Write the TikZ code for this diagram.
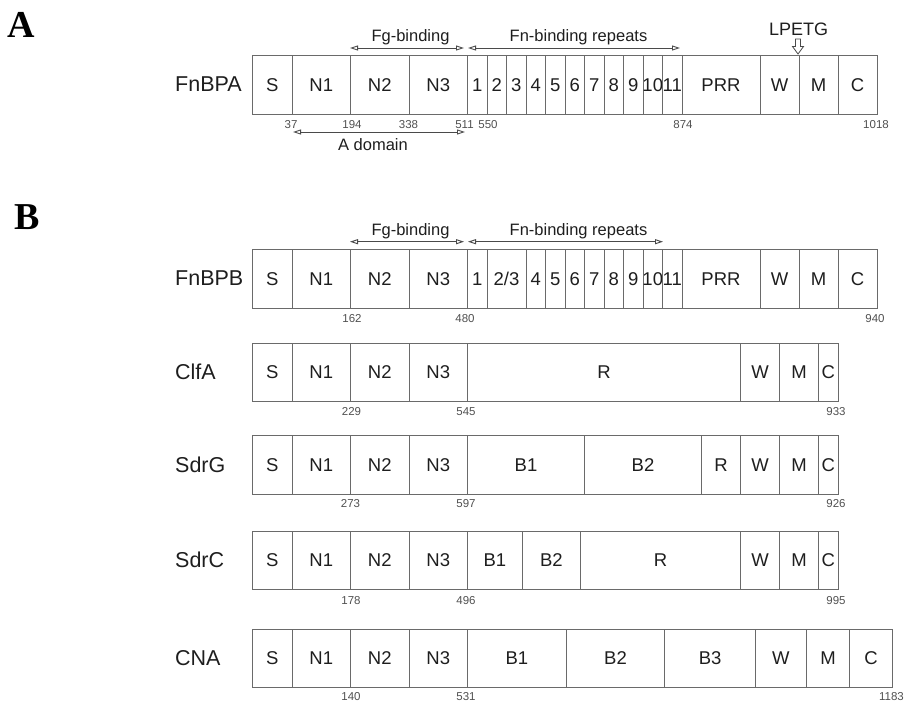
\documentclass[tikz,border=0pt]{standalone}
\usepackage{fontspec}
\setmainfont{Liberation Sans}
\newfontfamily\serifbold{Liberation Serif}
\usetikzlibrary{arrows.meta}
\definecolor{boxline}{HTML}{6A6A6A}
\definecolor{txt}{HTML}{1E1E1E}
\definecolor{numc}{HTML}{505050}
\definecolor{arrc}{HTML}{4A4A4A}
\newcommand\twothree{2/3}
\newcommand\segrow[3]{%
  \foreach \xa/\xb/\lab [count=\i] in {#3} {%
    \pgfmathsetmacro\segw{\xb-\xa}%
    \node[seg, minimum width=\segw pt] (#1-\i) at (\xa,#2) {\makebox[0pt]{\lab}};%
  }%
}
\begin{document}
\begin{tikzpicture}[x=1pt,y=-1pt,
  seg/.style={draw=boxline, line width=1pt, inner sep=0pt, minimum height=58.5pt,
    text height=13.2pt, text depth=0pt,
    anchor=north west, text=txt, font=\fontsize{18.5}{20}\selectfont},
  rowlab/.style={anchor=west, inner sep=0pt, text=txt, font=\fontsize{21.5}{23}\selectfont},
  num/.style={inner sep=0pt, text=numc, font=\fontsize{11.5}{13}\selectfont},
  annot/.style={inner sep=0pt, text=txt, font=\fontsize{16.5}{18}\selectfont},
  span/.style={draw=arrc, line width=0.9pt,
    {Triangle[open,length=8pt,width=5pt]}-{Triangle[open,length=8pt,width=5pt]}},
  panel/.style={inner sep=0pt, text=black, font=\serifbold\bfseries\fontsize{38}{40}\selectfont}
]
\useasboundingbox (0,0) rectangle (904,702);

% panel letters
\node[panel] (pA) at (21,25) {A};
\node[panel] (pB) at (27.5,217.5) {B};

% ---------------- FnBPA ----------------
\node[rowlab] (lFnBPA) at (175,84.5) {FnBPA};
\segrow{fa}{55}{252/291.5/S, 291.5/350/N1, 350/408.5/N2, 408.5/467/N3,
  467/486.5/1, 486.5/506/2, 506/525.5/3, 525.5/545/4, 545/564.5/5, 564.5/584/6,
  584/603.5/7, 603.5/623/8, 623/642.5/9, 642.5/662/10, 662/681.5/11,
  681.5/759.5/PRR, 759.5/798.5/W, 798.5/837.5/M, 837.5/876.5/C}
\coordinate (fgAl) at (350,48);
\coordinate (fgAr) at (464,48);
\coordinate (fnAl) at (468,48);
\coordinate (fnAr) at (680,48);
\draw[span] (fgAl) -- (fgAr);
\draw[span] (fnAl) -- (fnAr);
\node[annot] (tfgA) at (410.5,37) {Fg-binding};
\node[annot] (tfnA) at (578.5,37) {Fn-binding repeats};
\node[annot, font=\fontsize{18}{20}\selectfont] (tlpetg) at (798.5,29) {LPETG};
\draw[draw=arrc, line width=0.8pt, fill=white]
  (795.5,39) -- (800.5,39) -- (800.5,46.5) -- (803.5,46.5) -- (798,54)
  -- (792.5,46.5) -- (795.5,46.5) -- cycle;
\coordinate (adl) at (293,132);
\coordinate (adr) at (465,132);
\draw[span] (adl) -- (adr);
\node[annot] (tad) at (373,145) {A domain};
\node[num] (nA1) at (291,125) {37};
\node[num] (nA2) at (352,125) {194};
\node[num] (nA3) at (408.5,125) {338};
\node[num] (nA4) at (464.5,125) {511};
\node[num] (nA5) at (488,125) {550};
\node[num] (nA6) at (683,125) {874};
\node[num] (nA7) at (876,125) {1018};

% ---------------- FnBPB ----------------
\node[rowlab] (lFnBPB) at (175,278.5) {FnBPB};
\segrow{fb}{249}{252/291.5/S, 291.5/350/N1, 350/408.5/N2, 408.5/467/N3,
  467/486.5/1, 486.5/525.5/\twothree, 525.5/545/4, 545/564.5/5, 564.5/584/6,
  584/603.5/7, 603.5/623/8, 623/642.5/9, 642.5/662/10, 662/681.5/11,
  681.5/759.5/PRR, 759.5/798.5/W, 798.5/837.5/M, 837.5/876.5/C}
\coordinate (fgBl) at (350,241.7);
\coordinate (fgBr) at (464,241.7);
\coordinate (fnBl) at (468,241.7);
\coordinate (fnBr) at (663,241.7);
\draw[span] (fgBl) -- (fgBr);
\draw[span] (fnBl) -- (fnBr);
\node[annot] (tfgB) at (410.5,231.7) {Fg-binding};
\node[annot] (tfnB) at (578.5,231.7) {Fn-binding repeats};
\node[num] (nB1) at (352,318.5) {162};
\node[num] (nB2) at (465,318.5) {480};
\node[num] (nB3) at (875,318.5) {940};

% ---------------- ClfA ----------------
\node[rowlab] (lClfA) at (175,372) {ClfA};
\segrow{cl}{342.5}{252/291.5/S, 291.5/350/N1, 350/408.5/N2, 408.5/467/N3,
  467/740/R, 740/779/W, 779/818/M, 818/837.5/C}
\node[num] (nC1) at (351.5,412) {229};
\node[num] (nC2) at (466,412) {545};
\node[num] (nC3) at (836,412) {933};

% ---------------- SdrG ----------------
\node[rowlab] (lSdrG) at (175,464.5) {SdrG};
\segrow{sg}{435}{252/291.5/S, 291.5/350/N1, 350/408.5/N2, 408.5/467/N3,
  467/584/B1, 584/701/B2, 701/740/R, 740/779/W, 779/818/M, 818/837.5/C}
\node[num] (nG1) at (350.5,504) {273};
\node[num] (nG2) at (466,504) {597};
\node[num] (nG3) at (836,504) {926};

% ---------------- SdrC ----------------
\node[rowlab] (lSdrC) at (175,560) {SdrC};
\segrow{sc}{530.5}{252/291.5/S, 291.5/350/N1, 350/408.5/N2, 408.5/467/N3,
  467/521.7/B1, 521.7/580/B2, 580/740/R, 740/779/W, 779/818/M, 818/837.5/C}
\node[num] (nS1) at (351,600.7) {178};
\node[num] (nS2) at (466,600.7) {496};
\node[num] (nS3) at (836,600.7) {995};

% ---------------- CNA ----------------
\node[rowlab] (lCNA) at (175,658) {CNA};
\segrow{cn}{628.5}{252/291.5/S, 291.5/350/N1, 350/408.5/N2, 408.5/467/N3,
  467/565.7/B1, 565.7/664.3/B2, 664.3/755/B3, 755/805.7/W, 805.7/849.3/M, 849.3/891.7/C}
\node[num] (nN1) at (351,696.5) {140};
\node[num] (nN2) at (466,696.5) {531};
\node[num, anchor=east] (nN3) at (904,696.5) {1183};
\end{tikzpicture}
\end{document}
